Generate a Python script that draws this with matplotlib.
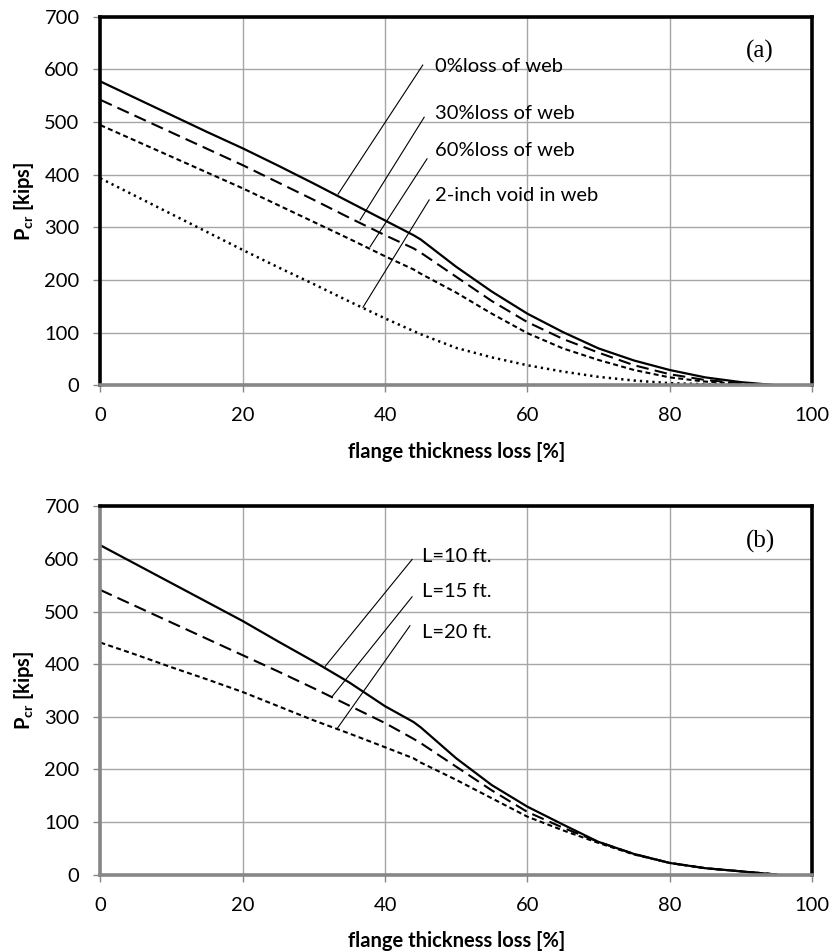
import matplotlib
matplotlib.use("Agg")
import matplotlib.pyplot as plt

plt.rcParams["font.family"] = ["Lato", "DejaVu Sans"]
plt.rcParams["mathtext.fontset"] = "custom"
plt.rcParams["mathtext.rm"] = "Lato"
plt.rcParams["mathtext.bf"] = "Lato:bold"

# -------- data --------
loss = [0, 5, 10, 15, 20, 25, 30, 35, 40, 44, 45, 50, 55, 60, 65, 70, 75, 80, 85, 90, 95]

# (a) web condition
web_0 = [577, 545, 513, 481, 450, 417, 383, 348, 313, 285, 277, 225, 178, 136, 101, 70, 47, 29, 15, 6, 0]
web_30 = [542, 511, 480, 449, 418, 385, 352, 318, 285, 260, 252, 206, 160, 120, 88, 62, 38, 21, 10, 4, 0]
web_60 = [494, 464, 434, 404, 374, 342, 310, 278, 245, 220, 212, 176, 136, 99, 70, 48, 29, 15, 7, 3, 0]
void_2in = [393, 359, 325, 291, 257, 224, 192, 159, 127, 103, 97, 71, 53, 38, 26, 16, 9, 4, 2, 1, 0]

# (b) column length
len_10 = [626, 590, 554, 518, 482, 443, 405, 365, 320, 290, 280, 221, 170, 129, 95, 62, 39, 22, 12, 6, 0]
len_15 = [541, 510, 479, 448, 417, 386, 354, 321, 288, 258, 250, 205, 160, 119, 89, 62, 39, 22, 12, 6, 0]
len_20 = [441, 418, 394, 371, 347, 320, 293, 268, 242, 221, 213, 180, 145, 110, 84, 60, 38, 22, 12, 6, 0]

labels_a = ["0%loss of web", "30%loss of web", "60%loss of web", "2-inch void in web"]
labels_b = ["L=10 ft.", "L=15 ft.", "L=20 ft."]

xticks = [0, 20, 40, 60, 80, 100]
yticks = [0, 100, 200, 300, 400, 500, 600, 700]

FS = 14.5

STYLES = [
    dict(linestyle="-", lw=1.6),
    dict(linestyle=(0, (6, 3)), lw=1.5),
    dict(linestyle=(0, (2.4, 1.6)), lw=1.5),
    dict(linestyle=(0, (0.9, 1.6)), lw=1.8),
]


def style_axes(ax, left_color):
    ax.set_xlim(0, 100)
    ax.set_ylim(0, 700)
    ax.set_xticks(xticks)
    ax.set_yticks(yticks)
    ax.grid(True, color="#a6a6a6", lw=1.0)
    ax.set_axisbelow(True)
    for side in ["top", "right"]:
        ax.spines[side].set_color("black")
        ax.spines[side].set_linewidth(2.6)
    ax.spines["left"].set_color(left_color)
    ax.spines["left"].set_linewidth(2.6)
    ax.spines["bottom"].set_color("#868686")
    ax.spines["bottom"].set_linewidth(2.6)
    ax.tick_params(direction="out", length=5, width=1, color="#868686", labelsize=FS)
    ax.tick_params(axis="x", pad=11)
    ax.tick_params(axis="y", pad=10)
    ax.text(0.5, -0.18, "flange thickness loss [%]", transform=ax.transAxes,
            fontsize=FS, fontweight="bold", ha="center", va="center")
    ax.text(-0.107, 0.5, r"$\mathbf{P_{cr}}$ [kips]", transform=ax.transAxes,
            fontsize=FS, fontweight="bold", ha="center", va="center", rotation=90)


fig = plt.figure(figsize=(8.33, 9.52), dpi=100)

# -------- (a) --------
ax1 = fig.add_axes([0.1205, 0.5953, 0.8543, 0.3872])
for ys, st in zip([web_0, web_30, web_60, void_2in], STYLES):
    ax1.plot(loss, ys, color="black", **st)
style_axes(ax1, "black")

leaders_a = [((33.4, 363), (45.3, 608)), ((36.5, 314), (45.5, 509)),
             ((37.9, 263), (45.9, 430)), ((36.9, 148), (46.2, 352))]
label_y_a = [606, 517, 445, 361]
for (p0, p1), lab, ly in zip(leaders_a, labels_a, label_y_a):
    ax1.plot([p0[0], p1[0]], [p0[1], p1[1]], color="black", lw=0.8)
    ax1.text(47.0, ly, lab, fontsize=FS, va="center", ha="left")
ax1.text(92.6, 633, "(a)", fontsize=18, family="Liberation Serif", ha="center", va="center")

# -------- (b) --------
ax2 = fig.add_axes([0.1205, 0.0814, 0.8543, 0.3867])
for ys, st in zip([len_10, len_15, len_20], STYLES):
    ax2.plot(loss, ys, color="black", **st)
style_axes(ax2, "#868686")

leaders_b = [((31.6, 396), (43.8, 599)), ((32.6, 339), (43.8, 528)),
             ((33.3, 278), (43.5, 473))]
label_y_b = [605, 539, 461]
for (p0, p1), lab, ly in zip(leaders_b, labels_b, label_y_b):
    ax2.plot([p0[0], p1[0]], [p0[1], p1[1]], color="black", lw=0.8)
    ax2.text(45.2, ly, lab, fontsize=FS, va="center", ha="left")
ax2.text(92.7, 634, "(b)", fontsize=18, family="Liberation Serif", ha="center", va="center")

fig.savefig("out.png", dpi=100)
